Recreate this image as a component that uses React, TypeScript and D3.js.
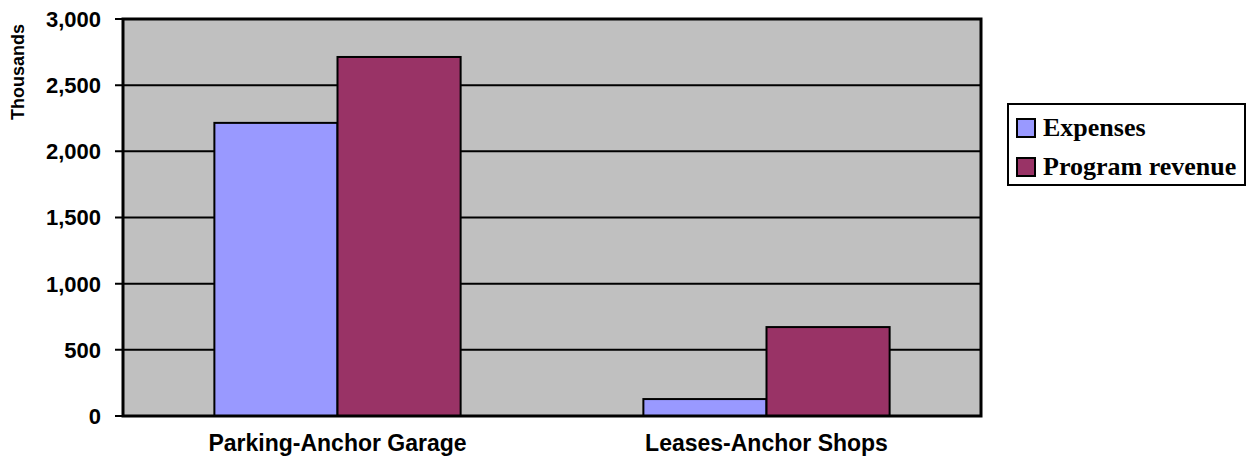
import React from "react";
import * as d3 from "d3";

const categories = ["Parking-Anchor Garage", "Leases-Anchor Shops"];
const seriesNames = ["Expenses", "Program revenue"];
const expenses = [2215, 128];
const programRevenue = [2713, 672];
const yTicks = [0, 500, 1000, 1500, 2000, 2500, 3000];
const colors = ["#9999FF", "#993366"];

export default function App() {
  const W = 1248, H = 466;
  const left = 123, right = 981, top = 19, bottom = 416;
  const y = d3.scaleLinear().domain([0, 3000]).range([bottom, top]);
  const x = d3.scaleBand<string>().domain(categories).range([left, right]).padding(0);
  const groupW = x.bandwidth() * 0.574;
  const inner = d3.scaleBand<string>().domain(seriesNames).range([0, groupW]).padding(0);
  const values = [expenses, programRevenue];
  const fmt = d3.format(",");
  return (
    <svg width={W} height={H} style={{ position: "absolute", left: 0, top: 0 }}>
      <rect x={left} y={top} width={right - left} height={bottom - top} fill="#C0C0C0" />
      {yTicks.map((t) => (
        <g key={t}>
          <line x1={115} x2={right} y1={y(t)} y2={y(t)} stroke="#000" strokeWidth={2} />
          <text x={101} y={y(t)} dy="0.36em" textAnchor="end" fontFamily="Liberation Sans, Arial, sans-serif" fontWeight="bold" fontSize={22}>
            {fmt(t)}
          </text>
        </g>
      ))}
      {categories.map((c, ci) => {
        const gx = (x(c) as number) + (x.bandwidth() - groupW) / 2;
        return (
          <g key={c}>
            {seriesNames.map((s, si) => (
              <rect key={s} x={gx + (inner(s) as number)} y={y(values[si][ci])} width={inner.bandwidth()} height={bottom - y(values[si][ci])} fill={colors[si]} stroke="#000" strokeWidth={2} />
            ))}
            <text x={(x(c) as number) + x.bandwidth() / 2} y={451} textAnchor="middle" fontFamily="Liberation Sans, Arial, sans-serif" fontWeight="bold" fontSize={23}>
              {c}
            </text>
          </g>
        );
      })}
      <rect x={left} y={top} width={right - left} height={bottom - top} fill="none" stroke="#000" strokeWidth={3} />
      <text transform={`translate(24,${(top + 125) / 2}) rotate(-90)`} textAnchor="middle" fontFamily="Liberation Sans, Arial, sans-serif" fontWeight="bold" fontSize={18}>
        Thousands
      </text>
      <rect x={1008} y={104} width={237} height={81} fill="#fff" stroke="#000" strokeWidth={2} />
      {seriesNames.map((s, i) => (
        <g key={s}>
          <rect x={1017} y={119 + i * 39} width={18} height={18} fill={colors[i]} stroke="#000" strokeWidth={2} />
          <text x={1043} y={136 + i * 39} fontFamily="Liberation Serif, Times New Roman, serif" fontWeight="bold" fontSize={26}>
            {s}
          </text>
        </g>
      ))}
    </svg>
  );
}
